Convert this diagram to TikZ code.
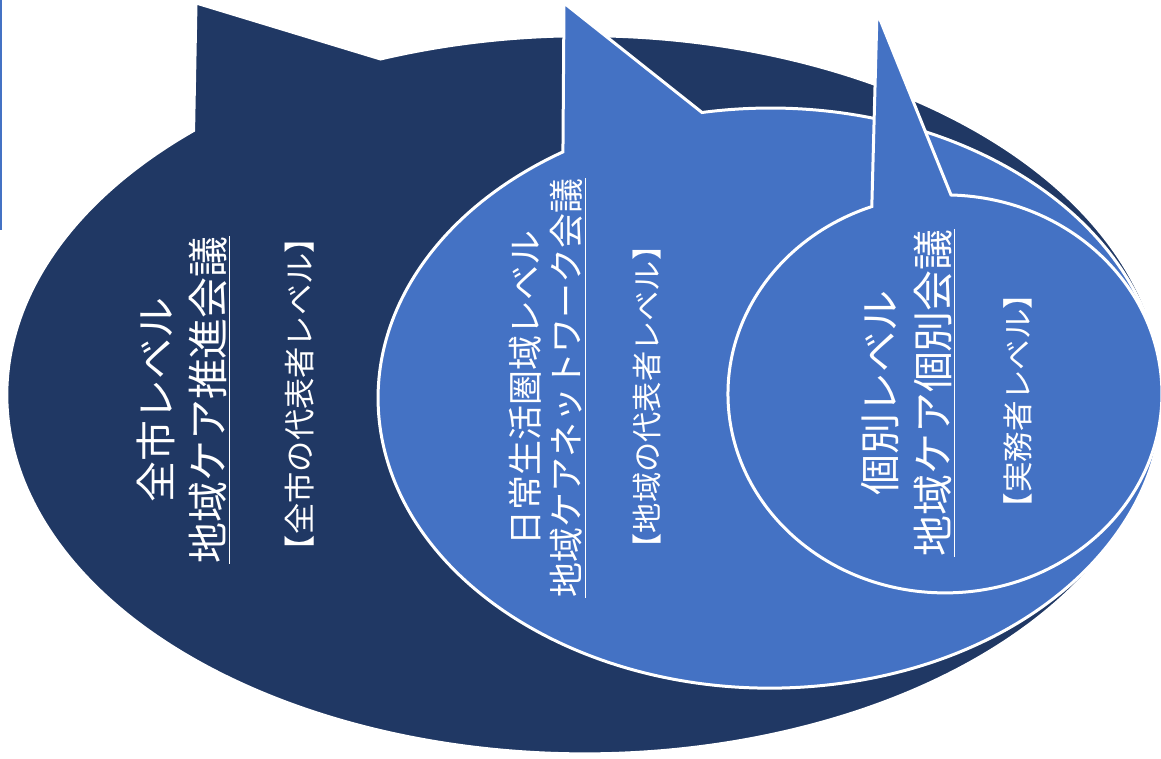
\documentclass[tikz,border=0pt]{standalone}
\usepackage{fontspec}
\usepackage{tikz}
\newfontfamily\jpfont[Kerning=Off]{Noto Sans CJK JP}
\definecolor{navy}{HTML}{203864}
\definecolor{midblue}{HTML}{4472C4}
\tikzset{
  bubble/.style={draw=white, line width=0.06cm, line join=miter},
  level title/.style={text=white, align=center, rotate=90, inner sep=0pt},
  level note/.style={text=white, rotate=90, inner sep=0pt}
}

\begin{document}
\begin{tikzpicture}

\useasboundingbox (0, 0) rectangle (23.22, 15.16);

\draw[midblue, line width=0.04cm] (0.02, 15.16) -- (0.02, 10.56) {};

\coordinate (city tip) at (3.92, 15.10);
\coordinate (area tip) at (11.28, 15.10);
\coordinate (case tip) at (17.54, 14.92);

\draw[bubble, fill=navy] (city tip) -- (7.61, 13.98) arc[start angle=110.7, end angle=-227.4, x radius=11.56, y radius=7.18] -- cycle;
\draw[bubble, fill=midblue] (area tip) -- (14.04, 12.91) arc[start angle=100, end angle=-238.1, x radius=7.84, y radius=5.80] -- cycle;
\draw[bubble, fill=midblue] (case tip) -- (19.02, 11.26) arc[start angle=88.4, end angle=-250.3, x radius=4.34, y radius=3.98] -- cycle;

\node[level title, font=\jpfont\fontsize{23.3}{29.6}\selectfont] (city title) at (3.68, 7.16) {全市レベル\\\underline{地域ケア推進会議}};
\node[level note, font=\jpfont\fontsize{17.8}{21}\selectfont] (city note) at (6.00, 7.28) {【全市の代表者レベル】};

\node[level title, font=\jpfont\fontsize{19.9}{23.3}\selectfont] (area title) at (10.95, 7.40) {日常生活圏域レベル\\\underline{地域ケアネットワーク会議}};
\node[level note, font=\jpfont\fontsize{17.2}{21}\selectfont] (area note) at (12.94, 7.22) {【地域の代表者レベル】};

\node[level title, font=\jpfont\fontsize{23.3}{30.2}\selectfont] (case title) at (18.17, 7.30) {個別レベル\\\underline{地域ケア個別会議}};
\node[level note, font=\jpfont\fontsize{17.4}{21}\selectfont] (case note) at (20.36, 7.14) {【実務者レベル】};

\end{tikzpicture}
\end{document}
